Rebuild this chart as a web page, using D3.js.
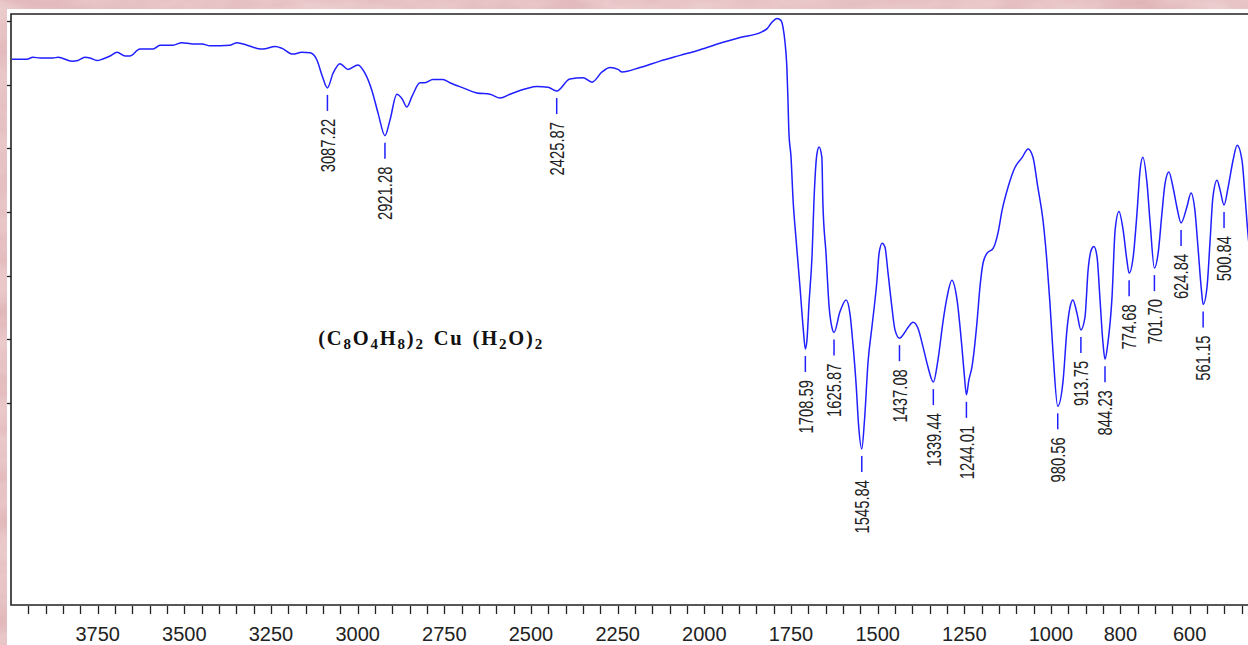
<!DOCTYPE html>
<html>
<head>
<meta charset="utf-8">
<script src="https://cdn.jsdelivr.net/npm/d3@7"></script>
<style>
  html, body { margin: 0; padding: 0; background: #e2b6b8; }
  svg { display: block; }
</style>
</head>
<body>
<div id="chart"></div>
<script>
const width = 1248;
const height = 645;

// wavenumber (cm-1) and transmittance
const wavenumbers = [
  3997, 3954, 3937, 3916, 3879, 3864, 3824, 3807, 3787, 3772, 3752, 3737, 3714, 3694, 3671, 3657,
  3628, 3590, 3570, 3533, 3507, 3475, 3449, 3426, 3368, 3348, 3319, 3290, 3273, 3238, 3218, 3187,
  3161, 3137, 3117, 3103, 3087.22, 3071, 3051, 3028, 2999, 2979, 2959, 2941, 2921.28, 2907, 2887, 2872,
  2858, 2843, 2820, 2806, 2783, 2754, 2734, 2696, 2656, 2618, 2589, 2561, 2512, 2483, 2451, 2425.87,
  2388, 2350, 2324, 2295, 2272, 2249, 2237, 2186, 2128, 2070, 2012, 1955, 1897, 1834, 1819, 1805,
  1790, 1779, 1773, 1767, 1762, 1759, 1756, 1750, 1744, 1736, 1724, 1715, 1708.59, 1704, 1698, 1689,
  1684, 1675, 1669, 1661, 1658, 1649, 1640, 1632, 1625.87, 1609, 1591, 1580, 1571, 1562, 1555, 1545.84,
  1538, 1528, 1516, 1502, 1496, 1487, 1479, 1470, 1459, 1450, 1437.08, 1427, 1412, 1398, 1384, 1369,
  1355, 1339.44, 1326, 1311, 1300, 1286, 1271, 1257, 1250, 1244.01, 1237, 1228, 1213, 1205, 1196, 1185,
  1167, 1153, 1141, 1124, 1104, 1084, 1066, 1052, 1038, 1023, 1012, 1003, 994, 980.56, 965, 954,
  945, 937, 925, 913.75, 902, 893, 882, 876, 867, 859, 850, 844.23, 836, 824, 815, 804,
  792, 781, 774.68, 763, 752, 743, 735, 723, 714, 701.70, 691, 680, 671, 660, 648, 637,
  624.84, 608, 596, 585, 576, 566, 561.15, 550, 541, 533, 521, 512, 500.84, 489, 475, 463,
  449, 440, 432, 420
];
const transmittance = [
  64.0, 64.0, 64.3, 64.2, 64.2, 64.3, 63.7, 63.8, 64.3, 64.2, 63.8, 64.0, 64.5, 65.1, 64.5, 64.5,
  65.6, 65.6, 66.2, 66.2, 66.6, 66.4, 66.4, 66.1, 66.2, 66.6, 66.2, 65.7, 65.6, 66.0, 65.7, 64.8,
  65.1, 65.0, 63.8, 61.5, 59.5, 61.8, 63.3, 62.4, 63.1, 61.8, 59.1, 55.5, 52.0, 54.4, 58.5, 57.8,
  56.5, 58.2, 60.3, 60.3, 60.8, 60.8, 60.3, 59.5, 58.7, 58.5, 57.9, 58.5, 59.4, 59.7, 59.6, 59.0,
  60.9, 61.1, 60.4, 62.0, 62.7, 62.4, 62.0, 62.7, 63.7, 64.6, 65.5, 66.5, 67.4, 68.3, 68.8, 69.8,
  70.4, 70.1, 69.0, 66.5, 62.8, 58.1, 52.4, 48.7, 41.9, 36.1, 28.2, 21.9, 18.5, 19.9, 25.7, 33.5,
  41.4, 49.2, 50.2, 48.6, 41.4, 33.5, 25.1, 21.9, 21.1, 24.3, 26.2, 24.1, 19.1, 12.8, 6.5, 2.8,
  7.3, 16.3, 22.2, 29.3, 33.5, 35.1, 34.5, 30.4, 25.1, 21.5, 20.2, 20.7, 21.9, 22.7, 21.8, 18.8,
  15.7, 13.3, 16.8, 23.0, 26.6, 29.3, 26.2, 18.8, 14.4, 11.3, 13.6, 15.7, 23.0, 28.2, 32.0, 33.5,
  34.3, 36.7, 40.3, 43.9, 47.0, 48.5, 49.9, 48.6, 43.9, 38.7, 32.4, 25.7, 17.8, 9.5, 13.6, 21.5,
  25.1, 26.2, 24.1, 21.5, 23.5, 30.9, 34.3, 34.6, 32.9, 26.6, 19.4, 16.9, 19.4, 26.6, 37.2, 40.1,
  37.2, 32.4, 30.4, 32.9, 39.8, 46.6, 48.6, 44.5, 38.3, 31.2, 33.5, 39.8, 44.5, 46.3, 43.9, 40.8,
  38.3, 40.8, 43.0, 40.3, 34.5, 27.7, 25.5, 28.2, 35.6, 42.3, 45.0, 43.4, 41.1, 43.9, 48.1, 50.5,
  48.1, 42.3, 36.7, 30.9
];

// labelled band positions
const peakLabels = [
  3087.22, 2921.28, 2425.87, 1708.59, 1625.87, 1545.84, 1437.08, 1339.44, 1244.01,
  980.56, 913.75, 844.23, 774.68, 701.70, 624.84, 561.15, 500.84
];

// axis ticks
const xTickLabels = [3750, 3500, 3250, 3000, 2750, 2500, 2250, 2000, 1750, 1500, 1250, 1000, 800, 600];
const xMinorTicks = d3.range(3950, 400, -50);
const yTicks = [10, 20, 30, 40, 50, 60, 70];

const data = wavenumbers.map((w, i) => ({ w: w, t: transmittance[i] }));

const margin = { left: 11, top: 14, bottom: 605 };

const x = d3.scaleLinear().domain([4000, 400]).range([11, 1259]);
const y = d3.scaleLinear().domain([-21.7, 71.1]).range([605, 14]);

const svg = d3.select("#chart").append("svg")
  .attr("width", width)
  .attr("height", height);

// pink marbled background
const defs = svg.append("defs");
const filt = defs.append("filter").attr("id", "marble")
  .attr("x", 0).attr("y", 0).attr("width", "100%").attr("height", "100%");
filt.append("feTurbulence")
  .attr("type", "fractalNoise")
  .attr("baseFrequency", "0.012 0.03")
  .attr("numOctaves", 4)
  .attr("seed", 7);
filt.append("feColorMatrix")
  .attr("type", "matrix")
  .attr("values", "0 0 0 0 0.92  0 0 0 0 0.77  0 0 0 0 0.77  0 0 0 -1.1 1.0");

svg.append("rect")
  .attr("width", width).attr("height", height)
  .attr("fill", "#e0b3b6");
svg.append("rect")
  .attr("width", width).attr("height", height)
  .attr("filter", "url(#marble)")
  .attr("opacity", 0.7);

// white sheet
svg.append("rect")
  .attr("x", 7).attr("y", 9)
  .attr("width", width).attr("height", height)
  .attr("fill", "#fff");

// frame
svg.append("path")
  .attr("d", `M${width + 20},${margin.top}H${margin.left}V${margin.bottom}H${width + 20}`)
  .attr("fill", "none")
  .attr("stroke", "#222")
  .attr("stroke-width", 1.6);

// x ticks
svg.append("g").selectAll("line")
  .data(xMinorTicks)
  .join("line")
  .attr("x1", d => Math.round(x(d)) + 0.5)
  .attr("x2", d => Math.round(x(d)) + 0.5)
  .attr("y1", 606)
  .attr("y2", 614)
  .attr("stroke", "#222")
  .attr("stroke-width", 1.3);

svg.append("g").selectAll("text")
  .data(xTickLabels)
  .join("text")
  .attr("x", d => x(d))
  .attr("y", 641)
  .attr("text-anchor", "middle")
  .attr("font-family", "Liberation Sans, Arial, sans-serif")
  .attr("font-size", 20)
  .attr("fill", "#222")
  .text(d => d);

// y ticks
svg.append("g").selectAll("line")
  .data(yTicks)
  .join("line")
  .attr("x1", 7)
  .attr("x2", margin.left)
  .attr("y1", d => Math.round(y(d)) + 0.5)
  .attr("y2", d => Math.round(y(d)) + 0.5)
  .attr("stroke", "#222")
  .attr("stroke-width", 1.3);

// spectrum
const line = d3.line()
  .x(d => x(d.w))
  .y(d => y(d.t))
  .curve(d3.curveMonotoneX);

svg.append("path")
  .datum(data)
  .attr("fill", "none")
  .attr("stroke", "#1f1fff")
  .attr("stroke-width", 1.5)
  .attr("d", line);

// band markers
const peaks = peakLabels.map(w => data.find(d => d.w === w));

const pk = svg.append("g").selectAll("g")
  .data(peaks)
  .join("g")
  .attr("transform", d => `translate(${x(d.w)},${y(d.t)})`);

pk.append("line")
  .attr("y1", 7)
  .attr("y2", 23)
  .attr("stroke", "#1f1fff")
  .attr("stroke-width", 1.5);

pk.append("text")
  .attr("transform", "translate(0,31) rotate(-90) scale(0.74,1)")
  .attr("text-anchor", "end")
  .attr("dy", "0.36em")
  .attr("font-family", "Liberation Sans, Arial, sans-serif")
  .attr("font-size", 20)
  .attr("fill", "#222")
  .text(d => d.w.toFixed(2));

// compound formula
const formula = svg.append("text")
  .attr("x", x(3114))
  .attr("y", 345)
  .attr("font-family", "Liberation Serif, Times New Roman, serif")
  .attr("font-weight", "bold")
  .attr("font-size", 20.5)
  .attr("letter-spacing", 1.8)
  .attr("fill", "#111");

// [text, subscript?, extra gap before]
const parts = [
  ["(C"], ["8", 1], ["O"], ["4", 1], ["H"], ["8", 1], [")"], ["2", 1],
  ["Cu", 0, 9], ["(H", 0, 9], ["2", 1], ["O)"], ["2", 1]
];
let shifted = false;
parts.forEach(p => {
  const t = formula.append("tspan").text(p[0]);
  if (p[2]) t.attr("dx", p[2]);
  if (p[1]) {
    t.attr("font-size", 15);
    if (!shifted) t.attr("dy", 4);
    shifted = true;
  } else if (shifted) {
    t.attr("dy", -4);
    shifted = false;
  }
});
</script>
</body>
</html>
